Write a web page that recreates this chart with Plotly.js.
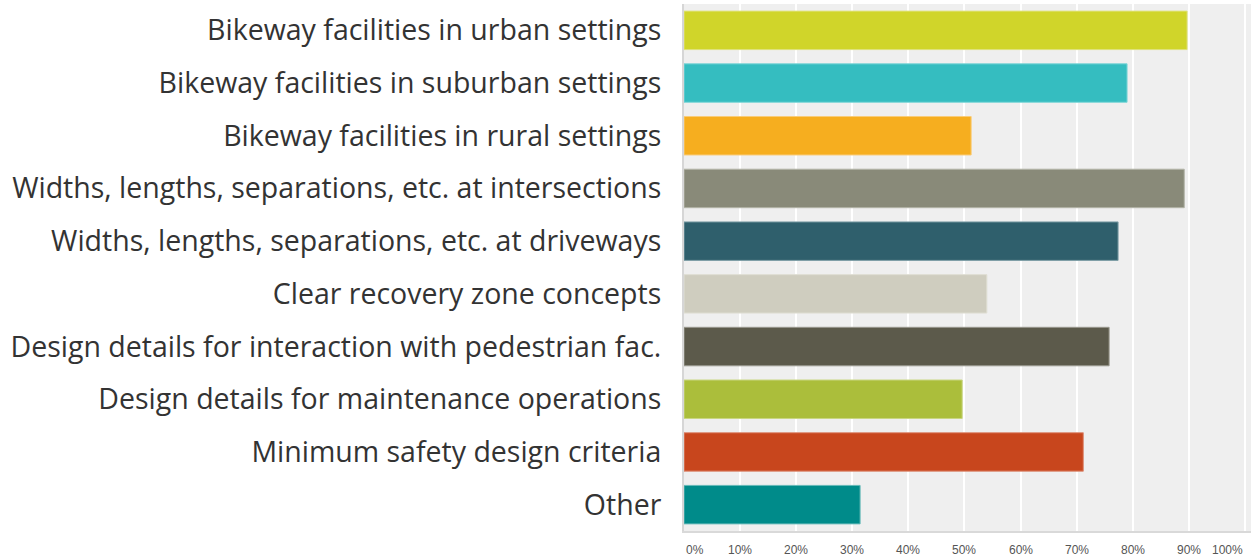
<!DOCTYPE html>
<html>
<head>
<meta charset="utf-8">
<script src="https://cdn.plot.ly/plotly-3.0.1.min.js"></script>
<style>html,body{margin:0;padding:0;background:#fff;}#chart{width:1251px;height:558px;}</style>
</head>
<body>
<div id="chart"></div>
<script>
const categories = [
  "Bikeway facilities in urban settings",
  "Bikeway facilities in suburban settings",
  "Bikeway facilities in rural settings",
  "Widths, lengths, separations, etc. at intersections",
  "Widths, lengths, separations, etc. at driveways",
  "Clear recovery zone concepts",
  "Design details for interaction with pedestrian fac.",
  "Design details for maintenance operations",
  "Minimum safety design criteria",
  "Other"
];
const values = [89.7, 79.0, 51.2, 89.2, 77.4, 54.0, 75.8, 49.6, 71.2, 31.4];
const colors = ["#d0d52a","#35bdc0","#f6ae1f","#898a79","#2f5f6c","#cfcdbf","#5c5a4b","#abbe3b","#c8461d","#008b8a"];
const lineColors = ["#dfe27a","#7fd6d8","#f9cc7a","#b3b4a8","#7f9fa7","#e0dfd5","#9a998f","#c9d681","#dd8e76","#66b9b8"];
const tickVals = [0,10,20,30,40,50,60,70,80,90,100];
const tickLabels = ["0%","10%","20%","30%","40%","50%","60%","70%","80%","90%","100%"];

const trace = {
  type: "bar",
  orientation: "h",
  x: values,
  y: categories,
  marker: {color: colors, line: {color: lineColors, width: 1}},
  hoverinfo: "x+y"
};

const annotations = tickVals.map((v, i) => ({
  x: v, xref: "x", y: 0, yref: "paper", yanchor: "top", yshift: -10,
  xanchor: i === 0 ? "left" : (i === tickVals.length - 1 ? "right" : "center"),
  text: tickLabels[i], showarrow: false,
  font: {family: "Liberation Sans, Arial, sans-serif", size: 12, color: "#555"}
}));

const layout = {
  width: 1251, height: 558,
  margin: {l: 684, r: 0, t: 4, b: 27},
  paper_bgcolor: "#ffffff",
  plot_bgcolor: "#efefef",
  bargap: 0.27,
  showlegend: false,
  xaxis: {
    range: [0, 101.1],
    tickvals: tickVals,
    showticklabels: false,
    showgrid: true, gridcolor: "#ffffff", gridwidth: 2,
    zeroline: false,
    showline: true, linecolor: "#d9d9d9", linewidth: 2,
    fixedrange: true
  },
  yaxis: {
    autorange: "reversed",
    type: "category",
    showgrid: false, zeroline: false,
    showline: true, linecolor: "#d6d6d6", linewidth: 2,
    ticks: "", ticklabelstandoff: 15,
    tickfont: {family: "Open Sans, sans-serif", size: 28.5, color: "#333333"},
    fixedrange: true
  },
  annotations: annotations
};

Plotly.newPlot("chart", [trace], layout, {displayModeBar: false, staticPlot: true});
</script>
</body>
</html>
